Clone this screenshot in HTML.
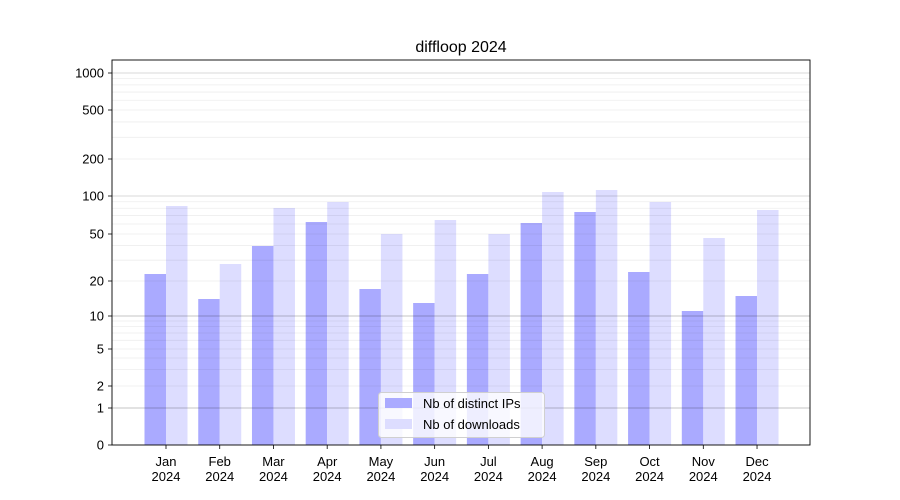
<!DOCTYPE html>
<html><head><meta charset="utf-8"><style>
body{margin:0;background:#fff;}
svg{display:block;font-family:"Liberation Sans","DejaVu Sans",sans-serif;}
</style></head><body>
<svg id="s" width="900" height="500" xmlns="http://www.w3.org/2000/svg"></svg>
<script>
const s=document.getElementById('s');
let h='';
const T=[[1,408],[2,386],[5,349],[10,316],[20,281],[50,234],[100,196],[200,159],[500,110],[1000,73]];
function Y(v){
 if(v<=1) return 445-37*v;
 for(let i=0;i<T.length-1;i++){const[a,ya]=T[i],[b,yb]=T[i+1];
  if(v<=b){return ya+(yb-ya)*Math.log(v/a)/Math.log(b/a);}}
 const[a,ya]=T[T.length-2],[b,yb]=T[T.length-1];
 return ya+(yb-ya)*Math.log(v/a)/Math.log(b/a);
}
const ip=[274,299,246,222,289,303,274,223,212,272,311,296];
const dl=[206,264,208,202,234,220,234,192,190,202,238,210];
const m=['Jan','Feb','Mar','Apr','May','Jun','Jul','Aug','Sep','Oct','Nov','Dec'];
for(let i=0;i<12;i++){const c=166+i*53.73;
 h+=`<rect x="${c-21.5}" y="${ip[i]}" width="21.5" height="${445-ip[i]}" fill="#aaaaff"/>`;
 h+=`<rect x="${c}" y="${dl[i]}" width="21.5" height="${445-dl[i]}" fill="#ddddff"/>`;
 h+=`<line x1="${c}" x2="${c}" y1="445" y2="449" stroke="#000" stroke-width="0.8"/>`;
 h+=`<text x="${c}" y="466" font-size="13" text-anchor="middle">${m[i]}</text><text x="${c}" y="481" font-size="13" text-anchor="middle">2024</text>`;
}
[1,10,100,1000].forEach(d=>{for(let k=2;k<=9;k++){const v=d*k;const y=Y(v);if(y<60)continue;
 h+=`<line x1="112" x2="810" y1="${y}" y2="${y}" stroke="#000" stroke-opacity="0.07" stroke-width="0.8"/>`;}});
[[1,0.3],[10,0.3],[100,0.2],[1000,0.2]].forEach(([v,o])=>{const y=Y(v);h+=`<line x1="112" x2="810" y1="${y}" y2="${y}" stroke="#000" stroke-opacity="${o}" stroke-width="0.8"/>`;});
[[0,445]].concat(T).forEach(([v,y])=>{h+=`<line x1="108" x2="112" y1="${y}" y2="${y}" stroke="#000" stroke-width="0.8"/><text x="104" y="${y+4.5}" font-size="13" text-anchor="end">${v}</text>`;});
h+=`<rect x="112" y="60" width="698" height="385" fill="none" stroke="#000" stroke-width="0.9"/>`;
h+=`<text x="461" y="52" font-size="16" text-anchor="middle">diffloop 2024</text>`;
h+=`<rect x="378.5" y="392.5" width="166" height="45" rx="3" fill="#fff" fill-opacity="0.8" stroke="#d0d0d0"/>`;
h+=`<rect x="385" y="398" width="27" height="10" fill="#aaaaff"/><text x="423" y="408" font-size="13">Nb of distinct IPs</text>`;
h+=`<rect x="385" y="419" width="27" height="10" fill="#ddddff"/><text x="423" y="429" font-size="13">Nb of downloads</text>`;
s.innerHTML=h;
</script>
</body></html>
